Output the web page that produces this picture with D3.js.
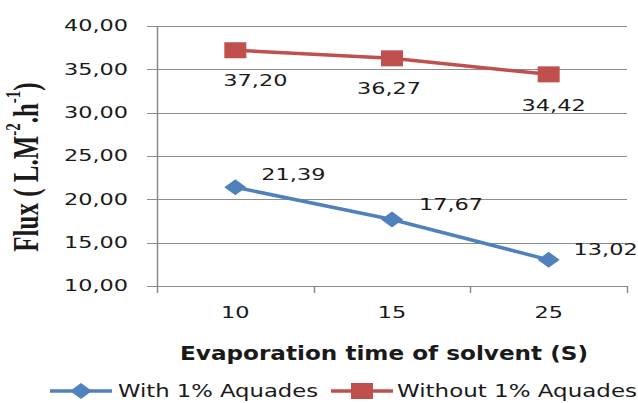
<!DOCTYPE html>
<html>
<head>
<meta charset="utf-8">
<script src="https://cdn.jsdelivr.net/npm/d3@7"></script>
<style>
  body { margin: 0; background: #fff; }
  svg text { font-family: "DejaVu Sans", Verdana, sans-serif; fill: #1a1a1a; }
</style>
</head>
<body>
<svg id="chart" width="638" height="403"></svg>
<script>
// chart data
var categories = ["10", "15", "25"];
var withAquades = [21.39, 17.67, 13.02];
var withoutAquades = [37.20, 36.27, 34.42];
var yTicks = [10, 15, 20, 25, 30, 35, 40];
var seriesNames = ["With 1% Aquades", "Without 1% Aquades"];

// the original picture is stretched horizontally, so text is too
var SX = 1.4;
var blue = "#4f81bd", red = "#c0504d", grid = "#8c8c8c";

// hand placed data label nudges, as in the source chart
var labelNudge = {
  blue: [[58, -13], [59, -15], [57, -10]],
  red: [[20, 30], [-3, 30], [5, 31]]
};

var svg = d3.select("#chart");

var x = d3.scaleBand().domain(categories).range([157, 627]);
var y = d3.scaleLinear().domain([10, 40]).range([286, 26]);

function fmt(v) { return v.toFixed(2).replace(".", ","); }

// stretched text helper
function addText(g, str, px, py, anchor, size) {
  return g.append("text")
    .attr("transform", "translate(" + px + "," + py + ") scale(" + SX + ",1)")
    .attr("text-anchor", anchor)
    .attr("dominant-baseline", "central")
    .style("font-size", size + "px")
    .text(str);
}

// horizontal gridlines with small ticks to the left
svg.append("g").selectAll("line")
  .data(yTicks)
  .enter()
  .append("line")
  .attr("x1", 147).attr("x2", x.range()[1])
  .attr("y1", function (d) { return Math.round(y(d)) + 0.5; })
  .attr("y2", function (d) { return Math.round(y(d)) + 0.5; })
  .attr("stroke", grid).attr("stroke-width", 1);

// y tick labels
yTicks.forEach(function (t) {
  addText(svg, fmt(t), 128, y(t), "end", 16);
});

// vertical axis line
svg.append("line")
  .attr("x1", 157.5).attr("x2", 157.5)
  .attr("y1", y(40)).attr("y2", 293)
  .attr("stroke", grid).attr("stroke-width", 1.5);

// category ticks at band edges
var edges = categories.map(function (c) { return x(c); }).concat([x.range()[1]]);
svg.append("g").selectAll("line")
  .data(edges.slice(1))
  .enter()
  .append("line")
  .attr("x1", function (d) { return Math.round(d) + 0.5; })
  .attr("x2", function (d) { return Math.round(d) + 0.5; })
  .attr("y1", y(10)).attr("y2", 293)
  .attr("stroke", grid).attr("stroke-width", 1.5);

// x tick labels
categories.forEach(function (c) {
  addText(svg, c, x(c) + x.bandwidth() / 2, 313, "middle", 16);
});

// marker shapes (wider than tall, like the source)
function marker(g, kind, cx, cy, color) {
  if (kind === "diamond") {
    g.append("path")
      .attr("d", "M" + (cx - 11) + "," + cy + "L" + cx + "," + (cy - 8) +
        "L" + (cx + 11) + "," + cy + "L" + cx + "," + (cy + 8) + "Z")
      .attr("fill", color);
  } else {
    g.append("rect")
      .attr("x", cx - 11).attr("y", cy - 8)
      .attr("width", 22).attr("height", 16)
      .attr("fill", color);
  }
}

var line = d3.line()
  .x(function (d, i) { return x(categories[i]) + x.bandwidth() / 2; })
  .y(function (d) { return y(d); });

function drawSeries(values, color, kind, nudges) {
  var g = svg.append("g");
  g.append("path")
    .datum(values)
    .attr("d", line)
    .attr("fill", "none")
    .attr("stroke", color)
    .attr("stroke-width", 3.5)
    .attr("stroke-linejoin", "round");
  values.forEach(function (v, i) {
    var cx = x(categories[i]) + x.bandwidth() / 2;
    marker(g, kind, cx, y(v), color);
    addText(g, fmt(v), cx + nudges[i][0], y(v) + nudges[i][1], "middle", 16);
  });
}

drawSeries(withoutAquades, red, "square", labelNudge.red);
drawSeries(withAquades, blue, "diamond", labelNudge.blue);

// x axis title
svg.append("text")
  .attr("x", 384).attr("y", 353)
  .attr("text-anchor", "middle")
  .attr("dominant-baseline", "central")
  .attr("textLength", 408)
  .attr("lengthAdjust", "spacingAndGlyphs")
  .style("font-size", "19px")
  .style("font-weight", "bold")
  .text("Evaporation time of solvent  (S)");

// y axis title, bold serif, rotated
var yTitle = svg.append("text")
  .attr("transform", "translate(26,167) scale(" + SX + ",1) rotate(-90)")
  .attr("text-anchor", "middle")
  .attr("dominant-baseline", "central")
  .style("font-family", "'Liberation Serif', 'Times New Roman', serif")
  .style("font-weight", "bold")
  .style("font-size", "25px");
yTitle.append("tspan").text("Flux ( L.M");
yTitle.append("tspan").attr("dy", -9).style("font-size", "15px").text("-2");
yTitle.append("tspan").attr("dy", 9).text(".h");
yTitle.append("tspan").attr("dy", -9).style("font-size", "15px").text("-1");
yTitle.append("tspan").attr("dy", 9).text(")");

// legend
var legendItems = [
  {name: seriesNames[0], color: blue, kind: "diamond", x0: 50, tx: 118, tw: 200},
  {name: seriesNames[1], color: red, kind: "square", x0: 331, tx: 397, tw: 240}
];
var legend = svg.append("g");
legendItems.forEach(function (it) {
  legend.append("line")
    .attr("x1", it.x0).attr("x2", it.x0 + 62)
    .attr("y1", 391).attr("y2", 391)
    .attr("stroke", it.color).attr("stroke-width", 3.5);
  marker(legend, it.kind, it.x0 + 31, 391, it.color);
  legend.append("text")
    .attr("x", it.tx).attr("y", 391)
    .attr("dominant-baseline", "central")
    .attr("textLength", it.tw)
    .attr("lengthAdjust", "spacingAndGlyphs")
    .style("font-size", "17px")
    .text(it.name);
});
</script>
</body>
</html>
